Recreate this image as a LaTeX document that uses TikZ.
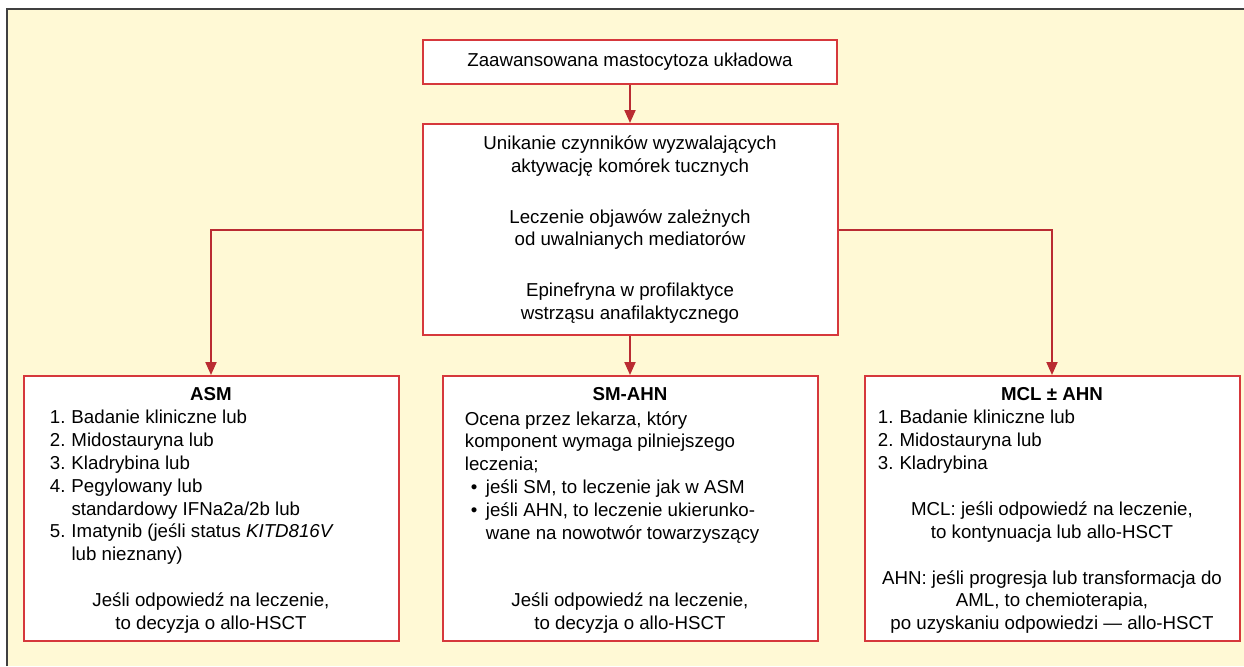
\documentclass[tikz,border=0pt]{standalone}
\usepackage{fontspec}
\setmainfont{Liberation Sans}
\usepackage{xcolor}
\usepackage{tikz}
\usetikzlibrary{arrows.meta, positioning}

\definecolor{panel}{RGB}{255,249,213}
\definecolor{framegray}{RGB}{64,64,64}
\definecolor{boxred}{RGB}{214,56,60}
\definecolor{arrred}{RGB}{186,44,50}

\newcommand{\num}[1]{\makebox[10.8pt][l]{#1}}
\newcommand{\bul}{\hspace*{3pt}\makebox[7.5pt][l]{\textbullet}}

\begin{document}
\begin{tikzpicture}[
      font=\fontsize{9.35}{11.4}\selectfont,
      box/.style={rectangle, draw=boxred, line width=1pt, fill=white, inner sep=0pt},
      lowbox/.style={box, minimum width=187.5pt, minimum height=132.5pt},
      txt/.style={inner sep=0pt, align=left},
      ctxt/.style={inner sep=0pt, align=center},
      arr/.style={draw=arrred, line width=1pt, -{Triangle[length=6.5pt, width=5.5pt]}}
    ]
      \useasboundingbox (0,0) rectangle (622pt,-333pt);
      \fill[panel] (3.5pt,-4pt) rectangle (622pt,-333pt);
      \draw[framegray, line width=1pt] (3.5pt,-333pt) |- (622pt,-4.5pt);

      % main chain
      \node[box, minimum width=207pt, minimum height=22pt] (top) at (315pt,-31pt)
        {Zaawansowana mastocytoza układowa};
      \node[box, align=center, minimum width=207.5pt, minimum height=105.5pt, below=19pt of top] (care)
        {Unikanie czynników wyzwalających\\aktywację komórek tucznych\\[14pt]
         Leczenie objawów zależnych\\od uwalnianych mediatorów\\[14pt]
         Epinefryna w profilaktyce\\wstrząsu anafilaktycznego};

      % three forms
      \node[lowbox, below=19.5pt of care] (smahn) {};
      \node[lowbox, left=21pt of smahn] (asm) {};
      \node[lowbox, right=22.5pt of smahn] (mcl) {};

      \draw[arr] (top) -- (care);
      \draw[arr] (care) -- (smahn);
      \draw[arr] (care.west) -| (asm.north);
      \draw[arr] (care.east) -| (mcl.north);

      % ASM
      \node[ctxt, below=6pt of asm.north] (asmhead) {\textbf{ASM}};
      \node[txt, below right=17.5pt and 13.5pt of asm.north west] (asmlist)
        {\num{1.}Badanie kliniczne lub\\\num{2.}Midostauryna lub\\\num{3.}Kladrybina lub\\
         \num{4.}Pegylowany lub\\\num{}standardowy IFNa2a/2b lub\\
         \num{5.}Imatynib (jeśli status \textit{KITD816V}\\\num{}lub nieznany)};
      \node[ctxt, above=4pt of asm.south] (asmfoot)
        {Jeśli odpowiedź na leczenie,\\to decyzja o allo-HSCT};

      % SM-AHN
      \node[ctxt, below=6pt of smahn.north] (smahnhead) {\textbf{SM-AHN}};
      \node[txt, below right=18pt and 11.5pt of smahn.north west] (smahnlist)
        {Ocena przez lekarza, który\\komponent wymaga pilniejszego\\leczenia;\\
         \bul jeśli SM, to leczenie jak w ASM\\\bul jeśli AHN, to leczenie ukierunko-\\
         \hspace*{10.5pt}wane na nowotwór towarzyszący};
      \node[ctxt, above=4pt of smahn.south] (smahnfoot)
        {Jeśli odpowiedź na leczenie,\\to decyzja o allo-HSCT};

      % MCL +- AHN
      \node[ctxt, below=6pt of mcl.north] (mclhead) {\textbf{MCL ± AHN}};
      \node[txt, below right=17.5pt and 7pt of mcl.north west] (mcllist)
        {\num{1.}Badanie kliniczne lub\\\num{2.}Midostauryna lub\\\num{3.}Kladrybina};
      \node[ctxt, above=4pt of mcl.south] (mclfoot)
        {MCL: jeśli odpowiedź na leczenie,\\to kontynuacja lub allo-HSCT\\[11.4pt]
         AHN: jeśli progresja lub transformacja do\\AML, to chemioterapia,\\
         po uzyskaniu odpowiedzi — allo-HSCT};
    \end{tikzpicture}
\end{document}
